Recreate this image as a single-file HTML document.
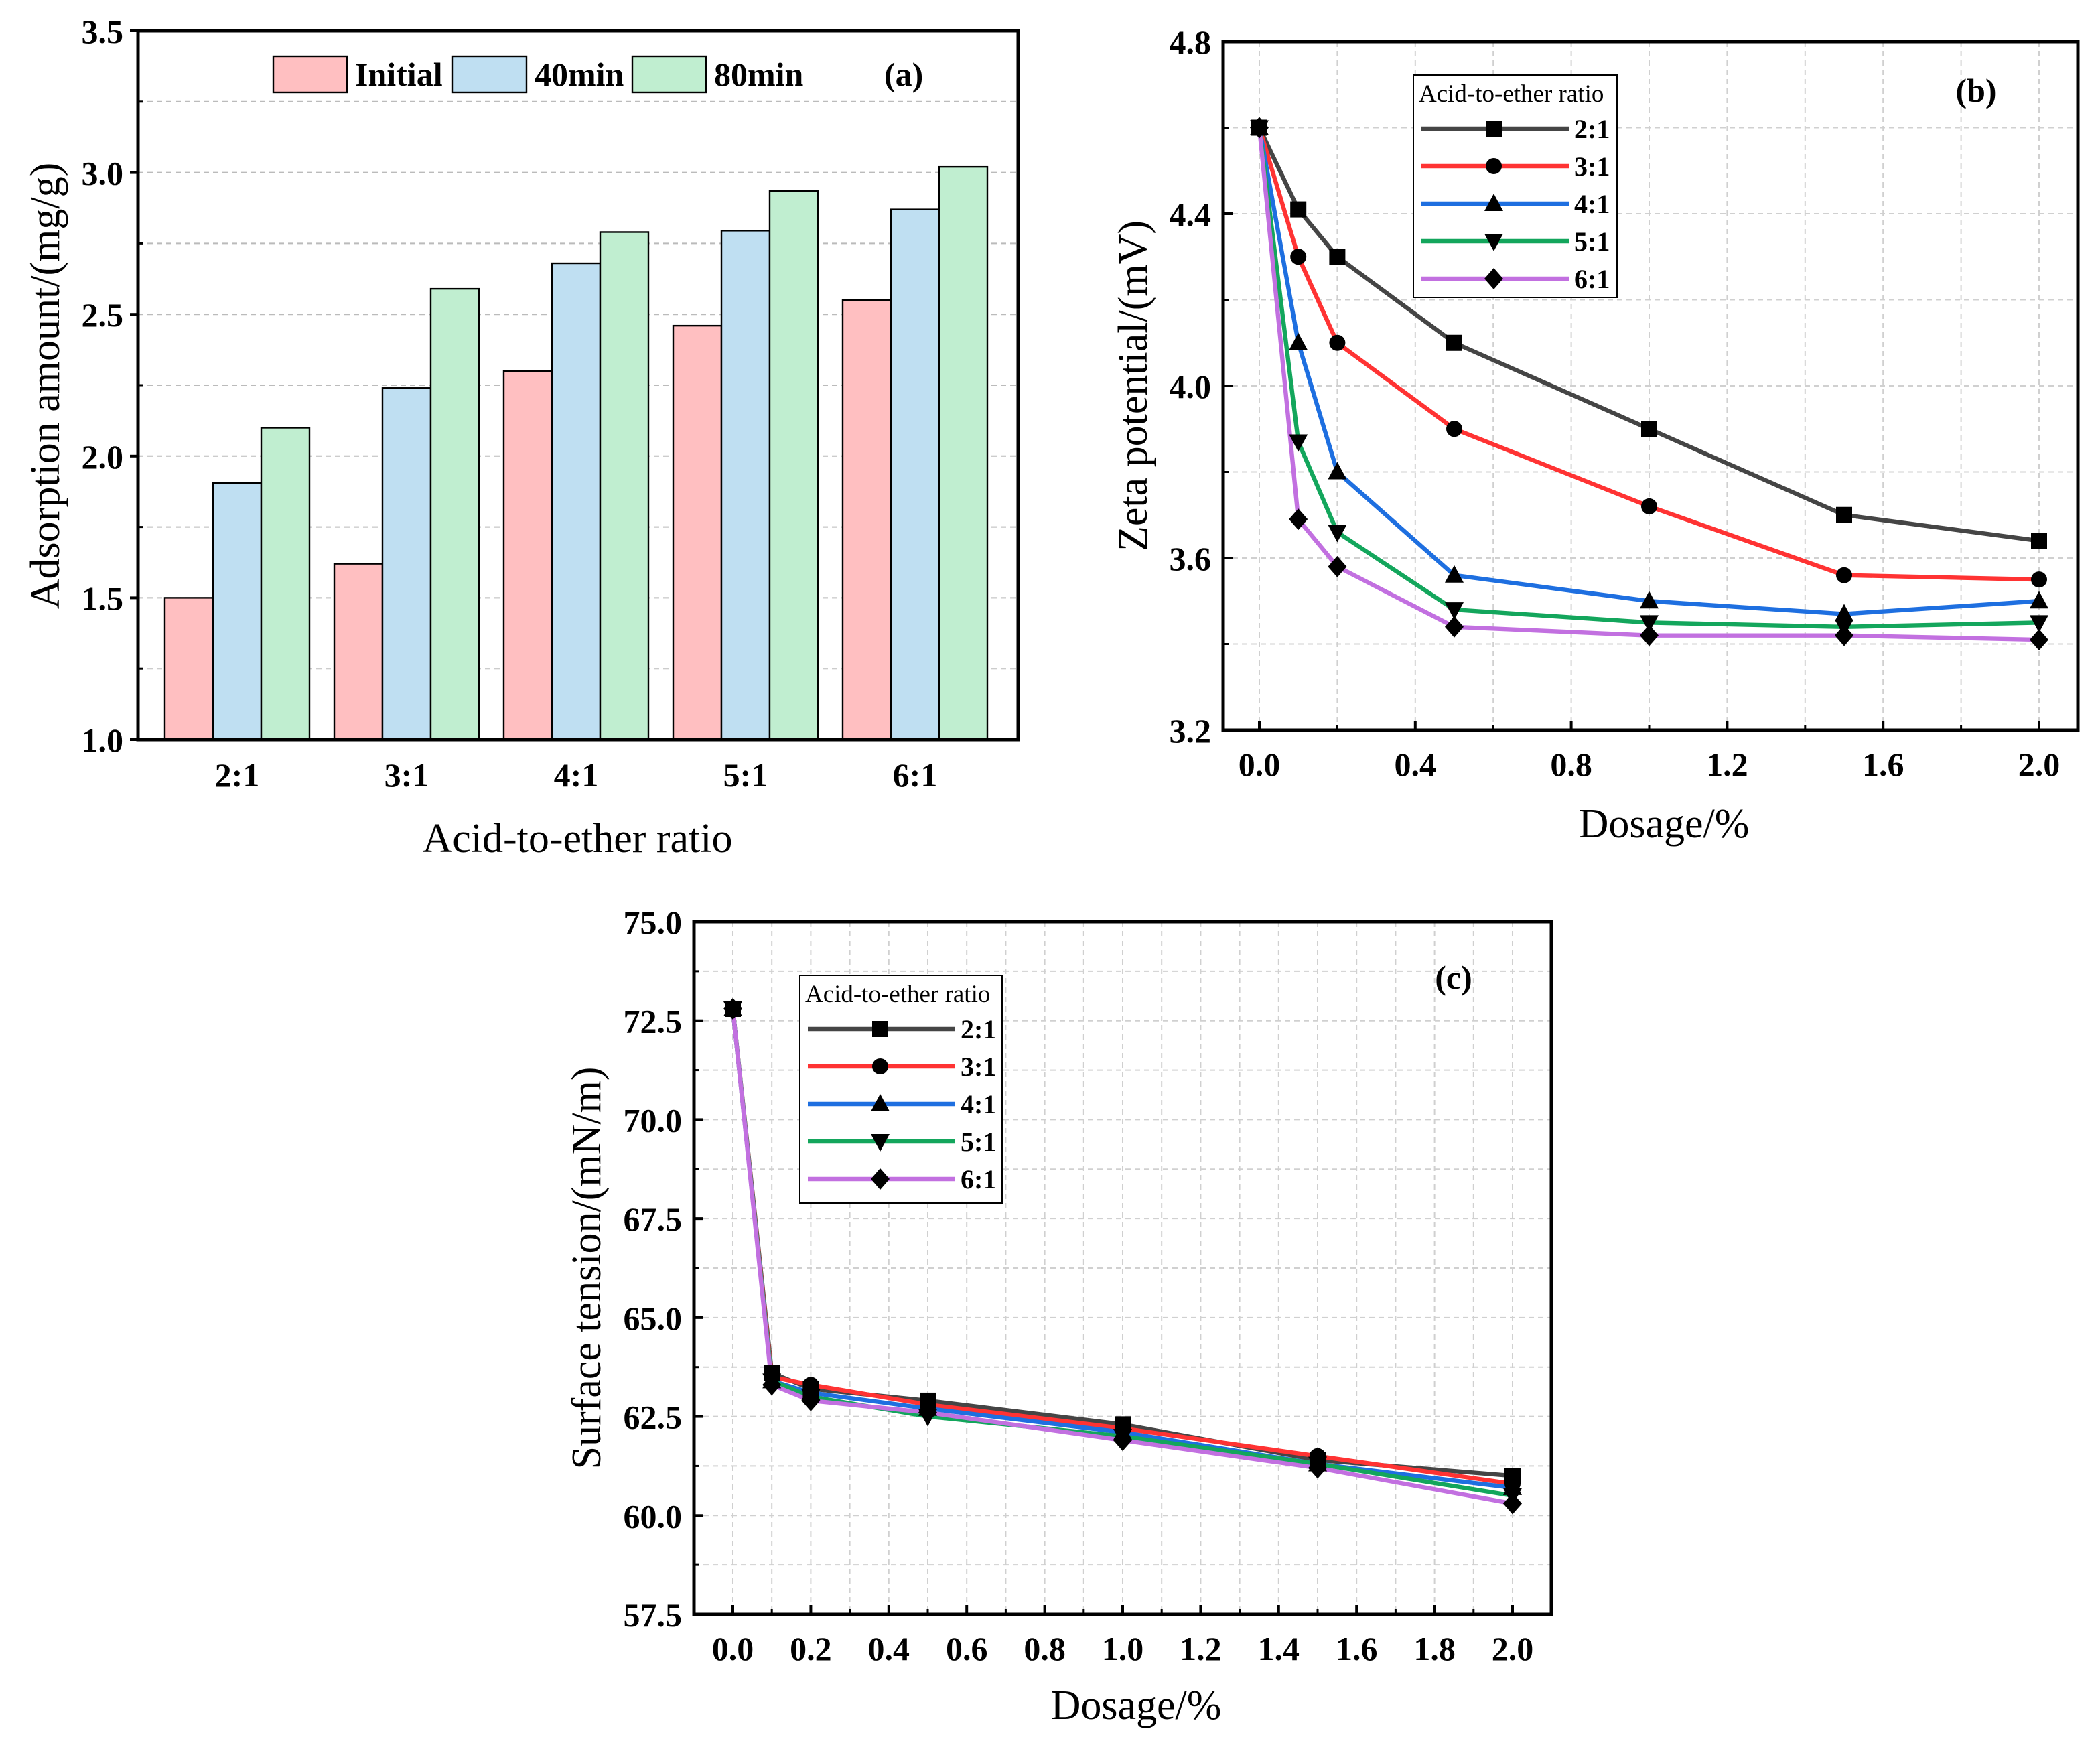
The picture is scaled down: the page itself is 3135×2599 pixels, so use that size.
<!DOCTYPE html>
<html><head><meta charset="utf-8"><style>
html,body{margin:0;padding:0;background:#fff}
svg{display:block}
text{font-family:"Liberation Serif",serif}
</style></head><body>
<svg id="fig" width="3135" height="2599" viewBox="0 0 1567.5 1299.5" xmlns="http://www.w3.org/2000/svg"></svg>
<script>
// ---------- data ----------
const barCategories = ["2:1","3:1","4:1","5:1","6:1"];
const barSeriesNames = ["Initial","40min","80min"];
const barInitial = [1.50,1.62,2.30,2.46,2.55];
const bar40min = [1.905,2.24,2.68,2.795,2.87];
const bar80min = [2.10,2.59,2.79,2.935,3.02];
const barYTicks = ["1.0","1.5","2.0","2.5","3.0","3.5"];

const dosage = [0,0.1,0.2,0.5,1.0,1.5,2.0];
const ratioNames = ["2:1","3:1","4:1","5:1","6:1"];
const zeta21 = [4.6,4.41,4.30,4.10,3.90,3.70,3.64];
const zeta31 = [4.6,4.30,4.10,3.90,3.72,3.56,3.55];
const zeta41 = [4.6,4.10,3.80,3.56,3.50,3.47,3.50];
const zeta51 = [4.6,3.87,3.66,3.48,3.45,3.44,3.45];
const zeta61 = [4.6,3.69,3.58,3.44,3.42,3.42,3.41];
const zetaXTicks = ["0.0","0.4","0.8","1.2","1.6","2.0"];
const zetaYTicks = ["3.2","3.6","4.0","4.4","4.8"];

const st21 = [72.8,63.6,63.2,62.9,62.3,61.4,61.0];
const st31 = [72.8,63.5,63.3,62.8,62.2,61.5,60.8];
const st41 = [72.8,63.4,63.1,62.7,62.1,61.3,60.7];
const st51 = [72.8,63.4,63.0,62.5,62.0,61.3,60.5];
const st61 = [72.8,63.3,62.9,62.6,61.9,61.2,60.3];
const stXTicks = ["0.0","0.2","0.4","0.6","0.8","1.0","1.2","1.4","1.6","1.8","2.0"];
const stYTicks = ["57.5","60.0","62.5","65.0","67.5","70.0","72.5","75.0"];

// ---------- helpers ----------
const NS="http://www.w3.org/2000/svg";
const svg=document.getElementById('fig');
function el(tag,attrs,parent){const e=document.createElementNS(NS,tag);for(const k in attrs)e.setAttribute(k,attrs[k]);(parent||svg).appendChild(e);return e;}
function txt(s,attrs,parent){const e=el('text',attrs,parent);e.textContent=s;return e;}
const lineColors=["#454545","#ff3333","#1e6fe0","#13a65c","#c270e0"];
const markers=["square","circle","up","down","diamond"];
function marker(type,x,y,g){
  const s=6.5;let m;
  if(type==="square")m=el('rect',{x:x-s+0.5,y:y-s+0.5,width:2*s-1,height:2*s-1,fill:"#000"},g);
  else if(type==="circle")m=el('circle',{cx:x,cy:y,r:s-0.5,fill:"#000"},g);
  else if(type==="up")m=el('polygon',{points:`${x},${y-s-1} ${x-s-0.5},${y+s-1} ${x+s+0.5},${y+s-1}`,fill:"#000"},g);
  else if(type==="down")m=el('polygon',{points:`${x},${y+s+1} ${x-s-0.5},${y-s+1} ${x+s+0.5},${y-s+1}`,fill:"#000"},g);
  else m=el('polygon',{points:`${x},${y-s-1.5} ${x+s+0.5},${y} ${x},${y+s+1.5} ${x-s-0.5},${y}`,fill:"#000"},g);
  return m;
}

// ---------- panel (a) ----------
(function(){
  const g=el('g',{});
  
  
  const L=103,R=760,T=23,B=552,y0=1.0,y1=3.5;
  const ys=v=>B-(v-y0)/(y1-y0)*(B-T);
  const cx=i=>L+74+i*126.5;
  for(let v=1.25;v<3.5;v+=0.25){const gl=el('line',{x1:L,x2:R,y1:ys(v),y2:ys(v),stroke:"#bbb","stroke-width":1,"stroke-dasharray":"4,3"},g);}
  const series=[barInitial,bar40min,bar80min];
  const fills=["#ffbfc1","#bfdff2","#c0eed0"];
  const bw=36;
  series.forEach((arr,s)=>{arr.forEach((v,i)=>{
    const x=cx(i)-1.5*bw+s*bw;
    const r=el('rect',{x:x,y:ys(v),width:bw,height:B-ys(v),fill:fills[s],stroke:"#000","stroke-width":1.2},g);
    
    
  });});
  el('rect',{x:L,y:T,width:R-L,height:B-T,fill:"none",stroke:"#000","stroke-width":2.5},g);
  barYTicks.forEach(t=>{const v=parseFloat(t);
    el('line',{x1:L-6,x2:L,y1:ys(v),y2:ys(v),stroke:"#000","stroke-width":2},g);
    const tl=txt(t,{x:L-11,y:ys(v)+9,"text-anchor":"end","font-size":25,"font-weight":"bold"},g);
    
  });
  for(let v=1.25;v<3.5;v+=0.5)el('line',{x1:L,x2:L+4,y1:ys(v),y2:ys(v),stroke:"#000","stroke-width":1.5},g);
  barCategories.forEach((c,i)=>{
    const tl=txt(c,{x:cx(i),y:B+35,"text-anchor":"middle","font-size":25,"font-weight":"bold"},g);
    
  });
  const yt=txt("Adsorption amount/(mg/g)",{x:0,y:0,transform:`translate(44,288) rotate(-90)`,"text-anchor":"middle","font-size":31},g);
  
  const xt=txt("Acid-to-ether ratio",{x:431,y:636,"text-anchor":"middle","font-size":31},g);
  
  const lx=[204,338,472];
  barSeriesNames.forEach((n,s)=>{
    const lg=el('g',{},g);
    
    
    el('rect',{x:lx[s],y:42,width:55,height:27,fill:fills[s],stroke:"#000","stroke-width":1.2},lg);
    txt(n,{x:lx[s]+61,y:64,"font-size":25,"font-weight":"bold"},lg);
  });
  const pl=txt("(a)",{x:660,y:64,"font-size":25,"font-weight":"bold"},g);
  
})();

// ---------- line chart helper ----------
function lineChart(o){
  const g=el('g',{});
  
  
  const {L,R,T,B,x0,x1,xv0,xv1,y0,y1}=o;
  const xs=v=>x0+(v-xv0)/(xv1-xv0)*(x1-x0);
  const ys=v=>B-(v-y0)/(y1-y0)*(B-T);
  for(let v=o.xMinor;v<=xv1+1e-9;v+=o.xMinor){const X=xs(v);const gl=el('line',{x1:X,x2:X,y1:T,y2:B,stroke:"#d0d0d0","stroke-width":1,"stroke-dasharray":"4,3"},g);}
  el('line',{x1:xs(xv0),x2:xs(xv0),y1:T,y2:B,stroke:"#d0d0d0","stroke-width":1,"stroke-dasharray":"4,3"},g);
  for(let v=y0+o.yMinor;v<y1-1e-9;v+=o.yMinor){const gl=el('line',{x1:L,x2:R,y1:ys(v),y2:ys(v),stroke:"#d0d0d0","stroke-width":1,"stroke-dasharray":"4,3"},g);}
  o.series.forEach((arr,s)=>{
    const pts=o.xData.map((x,i)=>xs(x)+","+ys(arr[i])).join(" ");
    const pl=el('polyline',{points:pts,fill:"none",stroke:lineColors[s],"stroke-width":3.2,"stroke-linejoin":"round"},g);
    
    
  });
  o.series.forEach((arr,s)=>{
    o.xData.forEach((x,i)=>{const m=marker(markers[s],xs(x),ys(arr[i]),g);
      
      });
  });
  el('rect',{x:L,y:T,width:R-L,height:B-T,fill:"none",stroke:"#000","stroke-width":2.5},g);
  o.xTicks.forEach(t=>{const X=xs(parseFloat(t));
    el('line',{x1:X,x2:X,y1:B,y2:B-7,stroke:"#000","stroke-width":2},g);
    const tl=txt(t,{x:X,y:B+34,"text-anchor":"middle","font-size":25,"font-weight":"bold"},g);
    
  });
  o.yTicks.forEach(t=>{const Y=ys(parseFloat(t));
    el('line',{x1:L,x2:L+7,y1:Y,y2:Y,stroke:"#000","stroke-width":2},g);
    const tl=txt(t,{x:L-9,y:Y+9,"text-anchor":"end","font-size":25,"font-weight":"bold"},g);
    
  });
  for(let v=o.xMinor;v<xv1;v+=o.xMinor*2){const X=xs(v);el('line',{x1:X,x2:X,y1:B,y2:B-4,stroke:"#000","stroke-width":1.5},g);}
  for(let v=y0+o.yMinor;v<y1;v+=o.yMinor*2){el('line',{x1:L,x2:L+4,y1:ys(v),y2:ys(v),stroke:"#000","stroke-width":1.5},g);}
  const yt=txt(o.yTitle,{x:0,y:0,transform:`translate(${o.yTitleX},${(T+B)/2}) rotate(-90)`,"text-anchor":"middle","font-size":31},g);
  
  const xt=txt("Dosage/%",{x:(L+R)/2+10,y:o.xTitleY,"text-anchor":"middle","font-size":31},g);
  
  const pl=txt(o.label,{x:o.labelX,y:o.labelY,"text-anchor":"middle","font-size":25,"font-weight":"bold"},g);
  
  const lg=el('g',{},g);
  
  
  const {lx,ly,lw,lh}=o.legend;
  el('rect',{x:lx,y:ly,width:lw,height:lh,fill:"#fff",stroke:"#000","stroke-width":1},lg);
  txt("Acid-to-ether ratio",{x:lx+4,y:ly+20,"font-size":18.5},lg);
  ratioNames.forEach((n,s)=>{
    const ey=ly+40+s*28;
    const le=el('g',{},lg);
    
    
    el('line',{x1:lx+6,x2:lx+116,y1:ey,y2:ey,stroke:lineColors[s],"stroke-width":3.2},le);
    marker(markers[s],lx+60,ey,le);
    txt(n,{x:lx+120,y:ey+7,"font-size":20,"font-weight":"bold"},le);
  });
}

lineChart({name:"zeta-potential-chart-b",L:913,R:1551,T:31,B:545,x0:940,x1:1522,xv0:0,xv1:2,y0:3.2,y1:4.8,
  xMinor:0.2,yMinor:0.2,xData:dosage,series:[zeta21,zeta31,zeta41,zeta51,zeta61],
  xTicks:zetaXTicks,yTicks:zetaYTicks,yTitle:"Zeta potential/(mV)",yTitleX:856,xTitleY:625,
  label:"(b)",labelX:1475,labelY:76,legend:{lx:1055,ly:56,lw:152,lh:166}});

lineChart({name:"surface-tension-chart-c",L:518,R:1158,T:688,B:1205,x0:547,x1:1129,xv0:0,xv1:2,y0:57.5,y1:75.0,
  xMinor:0.1,yMinor:1.25,xData:dosage,series:[st21,st31,st41,st51,st61],
  xTicks:stXTicks,yTicks:stYTicks,yTitle:"Surface tension/(mN/m)",yTitleX:448,xTitleY:1283,
  label:"(c)",labelX:1085,labelY:738,legend:{lx:597,ly:728,lw:151,lh:170}});
</script>
</body></html>
